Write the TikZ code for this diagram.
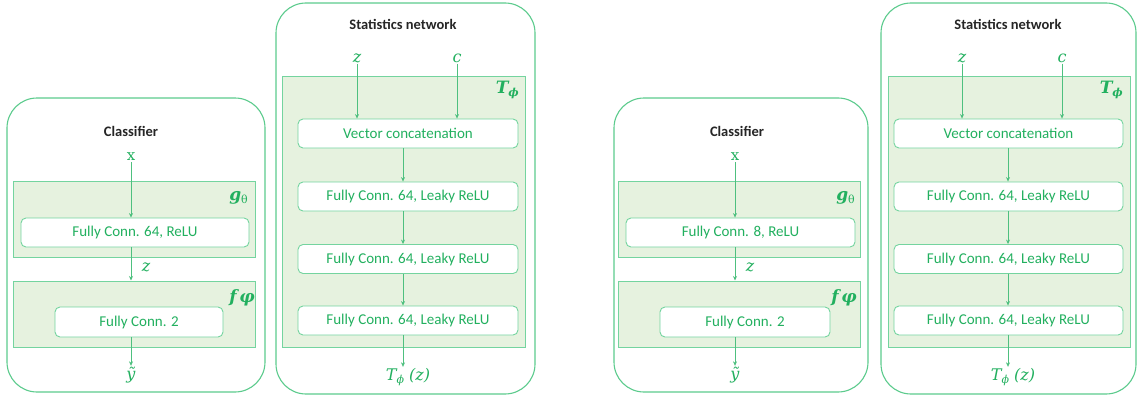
\RequirePackage{fix-cm}
\documentclass[tikz,border=0pt]{standalone}
\usepackage{fontspec}
\setmainfont{Carlito}
\newfontfamily\symfont{DejaVu Serif}
\usetikzlibrary{arrows.meta}

\definecolor{frameline}{HTML}{5CCB8D}
\definecolor{blockline}{HTML}{74D49F}
\definecolor{blockfill}{HTML}{E6F2DF}
\definecolor{labelgreen}{HTML}{22B05F}

% lowered subscript in the symbol font
\newcommand{\lowsub}[2][3.5pt]{\raisebox{-#1}{\fontsize{11}{12}\selectfont #2}}

\tikzset{
  panel/.style={draw=frameline, line width=1.1pt, rounded corners=30pt, fill=white, inner sep=0pt},
  block/.style={draw=blockline, line width=1pt, fill=blockfill, inner sep=0pt},
  layer/.style={draw=blockline, line width=0.9pt, fill=white, rounded corners=5pt, inner sep=0pt,
    text=labelgreen, font=\fontsize{15}{18}\selectfont},
  title/.style={font=\fontsize{14.5}{17}\selectfont\bfseries, text=black!85},
  sym/.style={text=labelgreen, font=\symfont\itshape\fontsize{16}{18}\selectfont, inner sep=1pt},
  tag/.style={text=labelgreen, font=\symfont\bfseries\itshape\fontsize{17}{20}\selectfont, inner sep=0pt},
  flow/.style={draw=labelgreen!80, line width=0.6pt, -{Stealth[length=4.5pt,width=4pt]}}
}

\begin{document}
\begin{tikzpicture}[x=1pt, y=-1pt]
\useasboundingbox (0,0) rectangle (1137,396);

% ---------------- left classifier ----------------
\node[panel, minimum width=258pt, minimum height=294pt] (lcls) at (136,245) {};
\node[title] (lclsT) at (131,131) {Classifier};
\node[sym, font=\symfont\fontsize{15}{18}\selectfont] (lx) at (131,157) {x};
\node[block, minimum width=242pt, minimum height=76pt] (lg) at (134,219) {};
\node[tag, anchor=east] (lgT) at (248,198) {g\lowsub[2.5pt]{\mdseries\upshape θ}};
\node[layer, minimum width=228pt, minimum height=29pt] (lfc1) at (135,232.5) {Fully Conn. 64, ReLU};
\node[block, minimum width=242pt, minimum height=66pt] (lf) at (134,314) {};
\node[tag, anchor=east] (lfT) at (255,298) {f\,φ};
\node[layer, minimum width=168pt, minimum height=30pt] (lfc2) at (139,322) {Fully Conn. 2};
\node[sym] (lz) at (146,267) {z};
\node[sym] (ly) at (131,375) {ỹ};
\coordinate (lax) at (131,0);
\draw[flow] (lx.south) -- (lax |- lfc1.north);
\draw[flow] (lax |- lfc1.south) -- (lax |- lf.north);
\draw[flow] (lax |- lfc2.south) -- (ly.north);

% ---------------- left statistics network ----------------
\node[panel, minimum width=259pt, minimum height=391pt] (lst) at (405.5,198.5) {};
\node[title] (lstT) at (403,24) {Statistics network};
\node[block, minimum width=243pt, minimum height=271pt] (lT) at (403.5,211.5) {};
\node[tag, anchor=east] (lTT) at (519,90) {T\lowsub{ϕ}};
\node[sym] (lsz) at (357,58) {z};
\node[sym] (lsc) at (457,58) {c};
\node[layer, minimum width=220pt, minimum height=29pt] (lvc) at (408,133.5) {Vector concatenation};
\node[layer, minimum width=220pt, minimum height=29pt] (lh1) at (408,196.5) {Fully Conn. 64, Leaky ReLU};
\node[layer, minimum width=220pt, minimum height=29pt] (lh2) at (408,259) {Fully Conn. 64, Leaky ReLU};
\node[layer, minimum width=220pt, minimum height=29pt] (lh3) at (408,320.5) {Fully Conn. 64, Leaky ReLU};
\node[sym] (lout) at (408,377) {T\lowsub{ϕ} (z)};
\coordinate (lsx) at (403,0);
\draw[flow] (lsz.south) -- (lsz |- lvc.north);
\draw[flow] (lsc.south) -- (lsc |- lvc.north);
\draw[flow] (lsx |- lvc.south) -- (lsx |- lh1.north);
\draw[flow] (lsx |- lh1.south) -- (lsx |- lh2.north);
\draw[flow] (lsx |- lh2.south) -- (lsx |- lh3.north);
\draw[flow] (lsx |- lh3.south) -- (lsx |- lout.north);

% ---------------- right classifier ----------------
\node[panel, minimum width=254pt, minimum height=294pt] (rcls) at (741,245) {};
\node[title] (rclsT) at (737,131) {Classifier};
\node[sym, font=\symfont\fontsize{15}{18}\selectfont] (rx) at (735,157) {x};
\node[block, minimum width=242pt, minimum height=76pt] (rg) at (739,219) {};
\node[tag, anchor=east] (rgT) at (855,198) {g\lowsub[2.5pt]{\mdseries\upshape θ}};
\node[layer, minimum width=229pt, minimum height=29pt] (rfc1) at (740.5,232.5) {Fully Conn. 8, ReLU};
\node[block, minimum width=242pt, minimum height=66pt] (rf) at (739,314) {};
\node[tag, anchor=east] (rfT) at (857,298) {f\,φ};
\node[layer, minimum width=170pt, minimum height=30pt] (rfc2) at (745,322) {Fully Conn. 2};
\node[sym] (rz) at (750,267) {z};
\node[sym] (ry) at (735,375) {ỹ};
\coordinate (rax) at (735,0);
\draw[flow] (rx.south) -- (rax |- rfc1.north);
\draw[flow] (rax |- rfc1.south) -- (rax |- rf.north);
\draw[flow] (rax |- rfc2.south) -- (ry.north);

% ---------------- right statistics network ----------------
\node[panel, minimum width=255pt, minimum height=391pt] (rst) at (1008.5,198.5) {};
\node[title] (rstT) at (1008,24) {Statistics network};
\node[block, minimum width=242pt, minimum height=271pt] (rT) at (1009,211.5) {};
\node[tag, anchor=east] (rTT) at (1123,90) {T\lowsub{ϕ}};
\node[sym] (rsz) at (962,58) {z};
\node[sym] (rsc) at (1062,58) {c};
\node[layer, minimum width=229pt, minimum height=29pt] (rvc) at (1008.5,133.5) {Vector concatenation};
\node[layer, minimum width=229pt, minimum height=29pt] (rh1) at (1008.5,196.5) {Fully Conn. 64, Leaky ReLU};
\node[layer, minimum width=229pt, minimum height=29pt] (rh2) at (1008.5,259) {Fully Conn. 64, Leaky ReLU};
\node[layer, minimum width=229pt, minimum height=29pt] (rh3) at (1008.5,320.5) {Fully Conn. 64, Leaky ReLU};
\node[sym] (rout) at (1013,377) {T\lowsub{ϕ} (z)};
\coordinate (rsx) at (1008,0);
\draw[flow] (rsz.south) -- (rsz |- rvc.north);
\draw[flow] (rsc.south) -- (rsc |- rvc.north);
\draw[flow] (rsx |- rvc.south) -- (rsx |- rh1.north);
\draw[flow] (rsx |- rh1.south) -- (rsx |- rh2.north);
\draw[flow] (rsx |- rh2.south) -- (rsx |- rh3.north);
\draw[flow] (rsx |- rh3.south) -- (rsx |- rout.north);
\end{tikzpicture}
\end{document}
